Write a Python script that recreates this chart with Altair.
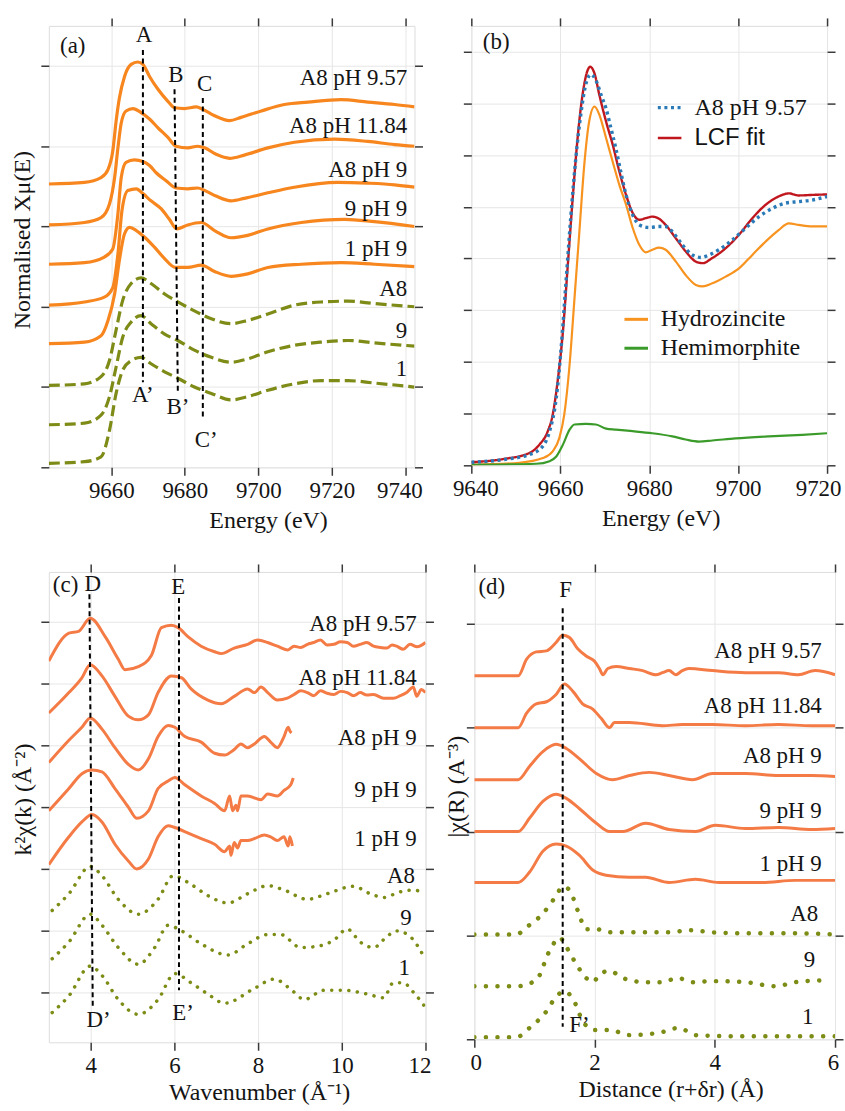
import altair as alt
import pandas as pd

SERIF = "Liberation Serif"
SANS = "Liberation Sans"
INK = "#141414"
FRAME = "#3a3a3a"
GRID = "#e6e6e6"

# ---------------- (a) XANES spectra ----------------
a_E_957 = [9643, 9652.7, 9657.2, 9659.1, 9660.4, 9661.3, 9662.2, 9663.6, 9665.4, 9667.2, 9668.6, 9670.4, 9672.7, 9675.4, 9677.2, 9679.9, 9683.1, 9684.9, 9688.1, 9692.2, 9695.3, 9700.8, 9707.1, 9713.5, 9722.5, 9729.8, 9737.1, 9742.5]
a_y_957 = [3.53, 3.55, 3.61, 3.71, 3.94, 4.31, 4.60, 4.87, 5.02, 5.05, 5.02, 4.87, 4.71, 4.56, 4.48, 4.47, 4.49, 4.46, 4.38, 4.32, 4.36, 4.44, 4.52, 4.55, 4.58, 4.55, 4.52, 4.49]
a_E_1184 = [9643, 9652.7, 9657.2, 9659.5, 9660.9, 9661.8, 9662.7, 9664.0, 9665.9, 9668.1, 9670.4, 9672.7, 9675.4, 9677.6, 9680.8, 9683.5, 9685.4, 9688.5, 9692.2, 9696.2, 9702.6, 9709.8, 9720.7, 9729.8, 9737.1, 9742.5]
a_y_1184 = [3.02, 3.05, 3.11, 3.28, 3.61, 3.98, 4.29, 4.44, 4.47, 4.42, 4.34, 4.23, 4.11, 4.00, 3.98, 4.00, 3.98, 3.90, 3.85, 3.89, 3.98, 4.05, 4.09, 4.06, 4.02, 4.00]
a_E_a8p9 = [9643, 9652.7, 9658.1, 9660.4, 9661.8, 9662.7, 9664.0, 9666.3, 9668.6, 9670.4, 9672.2, 9674.9, 9677.6, 9680.8, 9683.5, 9685.4, 9688.5, 9692.6, 9696.2, 9702.6, 9709.8, 9721.6, 9729.8, 9737.1, 9742.5]
a_y_a8p9 = [2.53, 2.55, 2.62, 2.72, 3.16, 3.61, 3.80, 3.83, 3.81, 3.76, 3.67, 3.57, 3.48, 3.47, 3.48, 3.45, 3.38, 3.32, 3.35, 3.42, 3.49, 3.55, 3.54, 3.52, 3.49]
a_E_9p9 = [9643, 9652.7, 9658.1, 9660.4, 9661.8, 9662.9, 9664.5, 9666.8, 9668.6, 9670.8, 9673.6, 9675.8, 9677.8, 9680.8, 9684.5, 9688.1, 9692.6, 9697.1, 9702.6, 9711.7, 9723.5, 9731.6, 9742.5]
a_y_9p9 = [2.02, 2.06, 2.12, 2.24, 2.66, 3.20, 3.45, 3.47, 3.41, 3.32, 3.22, 3.09, 2.97, 3.02, 3.05, 2.95, 2.86, 2.89, 2.97, 3.05, 3.09, 3.06, 3.00]
a_E_1p9 = [9643, 9652.7, 9657.2, 9659.1, 9660.9, 9662.2, 9663.6, 9665.0, 9666.8, 9669.0, 9671.8, 9674.5, 9677.4, 9680.8, 9684.5, 9688.1, 9692.6, 9697.1, 9702.6, 9711.7, 9722.5, 9731.6, 9742.5]
a_y_1p9 = [1.54, 1.56, 1.64, 1.83, 2.16, 2.58, 2.91, 2.99, 2.95, 2.87, 2.74, 2.60, 2.49, 2.49, 2.52, 2.44, 2.38, 2.41, 2.49, 2.53, 2.55, 2.53, 2.50]
a_E_ref = [9643, 9652.7, 9657.2, 9659.5, 9661.3, 9663.1, 9665.4, 9668.1, 9670.8, 9674.5, 9678.1, 9682.6, 9687.2, 9692.6, 9697.1, 9702.6, 9709.8, 9717.1, 9724.4, 9731.6, 9742.5]
a_y_A8 = [1.02, 1.04, 1.13, 1.33, 1.71, 2.08, 2.29, 2.36, 2.29, 2.16, 2.06, 1.95, 1.85, 1.79, 1.83, 1.91, 2.02, 2.06, 2.07, 2.04, 2.00]
a_y_9 = [0.53, 0.55, 0.65, 0.88, 1.25, 1.62, 1.81, 1.89, 1.79, 1.66, 1.58, 1.46, 1.37, 1.31, 1.35, 1.44, 1.52, 1.56, 1.58, 1.55, 1.51]
a_y_1 = [0.05, 0.07, 0.13, 0.46, 0.92, 1.21, 1.33, 1.37, 1.29, 1.19, 1.11, 1.00, 0.92, 0.84, 0.88, 0.96, 1.04, 1.08, 1.08, 1.05, 1.00]

a_lab_x = [9740.5] * 8
a_lab_y = [4.85, 4.25, 3.71, 3.22, 2.72, 2.22, 1.70, 1.23]
a_mk_text = ["A", "B", "C", "A\u2019", "B\u2019", "C\u2019", "(a)"]
a_mk_x = [9668.9, 9677.6, 9685.4, 9668.6, 9678.1, 9685.8, 9649.5]
a_mk_y = [5.39, 4.89, 4.77, 0.90, 0.75, 0.34, 5.25]
a_rule_x = [9668.6, 9677.2, 9684.9]
a_rule_x2 = [9668.6, 9678.1, 9684.9]
a_rule_y = [5.20, 4.71, 4.60]
a_rule_y2 = [1.06, 0.94, 0.63]

# ---------------- (b) LCF ----------------
b_E_exp = [9640, 9647.1, 9653.1, 9656.1, 9657.6, 9659.1, 9660.2, 9661.3, 9662.4, 9663.5, 9664.7, 9665.8, 9666.9, 9668.0, 9669.2, 9670.3, 9671.4, 9672.5, 9673.6, 9674.8, 9676.3, 9677.8, 9680.0, 9682.2, 9683.7, 9685.2, 9687.5, 9689.7, 9691.6, 9693.5, 9695.7, 9698.7, 9701.7, 9704.7, 9707.7, 9710.6, 9713.6, 9716.6, 9720]
b_y_exp = [0.06, 0.11, 0.21, 0.37, 0.66, 1.30, 2.27, 3.56, 4.84, 5.94, 6.84, 7.39, 7.56, 7.45, 7.16, 6.90, 6.52, 6.13, 5.68, 5.23, 4.84, 4.65, 4.60, 4.62, 4.62, 4.52, 4.26, 4.07, 4.02, 4.07, 4.17, 4.36, 4.59, 4.81, 4.97, 5.07, 5.10, 5.13, 5.20]
b_E_fit = [9640, 9647.1, 9653.1, 9655.3, 9657.2, 9658.3, 9659.4, 9660.6, 9661.7, 9662.8, 9663.9, 9665.0, 9666.2, 9666.7, 9667.7, 9668.8, 9670.3, 9671.8, 9673.3, 9674.8, 9676.3, 9677.8, 9679.2, 9680.7, 9682.2, 9683.7, 9686.0, 9688.2, 9690.5, 9692.0, 9694.2, 9697.2, 9700.2, 9703.2, 9706.2, 9709.1, 9711.4, 9713.6, 9716.6, 9720]
b_y_fit = [0.06, 0.12, 0.24, 0.40, 0.66, 0.98, 1.62, 2.59, 3.88, 5.17, 6.33, 7.16, 7.65, 7.71, 7.58, 7.16, 6.65, 6.20, 5.68, 5.23, 4.88, 4.75, 4.78, 4.81, 4.77, 4.65, 4.39, 4.14, 3.94, 3.91, 4.01, 4.20, 4.46, 4.78, 5.04, 5.20, 5.26, 5.22, 5.23, 5.24]
b_E_hz = [9640, 9650.8, 9656.1, 9658.3, 9659.8, 9660.9, 9662.1, 9663.2, 9664.3, 9665.4, 9666.5, 9667.7, 9668.8, 9670.3, 9671.8, 9673.3, 9674.8, 9676.3, 9677.8, 9679.2, 9680.7, 9682.2, 9683.7, 9686.0, 9688.2, 9690.5, 9692.0, 9694.2, 9697.2, 9700.2, 9703.2, 9706.2, 9709.1, 9711.4, 9713.6, 9716.6, 9720]
b_y_hz = [0.01, 0.05, 0.14, 0.27, 0.53, 0.98, 1.95, 3.23, 4.52, 5.81, 6.65, 6.94, 6.78, 6.33, 5.87, 5.42, 5.04, 4.59, 4.26, 4.12, 4.17, 4.21, 4.17, 3.94, 3.68, 3.49, 3.46, 3.52, 3.65, 3.81, 4.07, 4.33, 4.55, 4.68, 4.65, 4.62, 4.62]
b_E_hm = [9640, 9654.6, 9657.6, 9659.1, 9660.6, 9662.1, 9663.2, 9665.8, 9668.0, 9670.3, 9672.5, 9676.3, 9680.7, 9685.2, 9688.2, 9691.2, 9694.2, 9699.4, 9706.9, 9714.4, 9720]
b_y_hm = [0.01, 0.03, 0.08, 0.17, 0.40, 0.69, 0.79, 0.80, 0.79, 0.71, 0.69, 0.66, 0.62, 0.56, 0.50, 0.46, 0.48, 0.52, 0.56, 0.59, 0.62]
b_mk_text = ["(b)"]
b_mk_x = [9645.6]
b_mk_y = [8.19]

# ---------------- (c) k-space EXAFS ----------------
c_k_957 = [3.0, 3.48, 3.71, 3.99, 4.35, 4.66, 4.82, 5.14, 5.45, 5.69, 5.93, 6.09, 6.33, 6.64, 6.96, 7.12, 7.43, 7.75, 7.99, 8.23, 8.46, 8.70, 8.86, 9.02, 9.18, 9.33, 9.49, 9.65, 9.81, 9.97, 10.13, 10.28, 10.44, 10.6, 10.76, 10.92, 11.08, 11.2, 11.31, 11.47, 11.63, 11.8, 12.0]
c_y_957 = [5.36, 5.81, 5.84, 6.05, 5.75, 5.39, 5.22, 5.27, 5.45, 5.90, 5.94, 5.90, 5.75, 5.60, 5.51, 5.48, 5.57, 5.63, 5.70, 5.66, 5.60, 5.54, 5.60, 5.58, 5.63, 5.66, 5.70, 5.62, 5.63, 5.67, 5.66, 5.60, 5.63, 5.66, 5.60, 5.58, 5.57, 5.62, 5.60, 5.55, 5.63, 5.59, 5.66]
c_k_1184 = [3.0, 3.48, 3.79, 3.99, 4.27, 4.58, 4.90, 5.14, 5.38, 5.61, 5.93, 6.17, 6.40, 6.80, 7.12, 7.43, 7.75, 7.91, 8.07, 8.23, 8.46, 8.70, 8.86, 9.02, 9.18, 9.33, 9.49, 9.65, 9.81, 9.97, 10.13, 10.28, 10.44, 10.6, 10.76, 11.0, 11.23, 11.4, 11.55, 11.71, 11.79, 11.9, 12.0]
c_y_1184 = [4.52, 4.85, 5.09, 5.30, 5.12, 4.79, 4.47, 4.41, 4.49, 4.85, 5.12, 5.09, 4.91, 4.73, 4.67, 4.79, 4.91, 4.85, 4.94, 4.85, 4.73, 4.76, 4.82, 4.88, 4.85, 4.80, 4.88, 4.84, 4.82, 4.87, 4.85, 4.80, 4.85, 4.81, 4.82, 4.76, 4.76, 4.80, 4.85, 4.94, 4.79, 4.90, 4.85]
c_k_a8p9 = [3.0, 3.48, 3.79, 3.99, 4.27, 4.58, 4.90, 5.14, 5.38, 5.61, 5.85, 6.01, 6.25, 6.64, 6.96, 7.20, 7.43, 7.59, 7.75, 7.91, 8.15, 8.30, 8.46, 8.62, 8.72, 8.76, 8.80]
c_y_a8p9 = [3.72, 4.08, 4.29, 4.44, 4.26, 3.96, 3.69, 3.60, 3.78, 4.14, 4.32, 4.29, 4.14, 4.05, 3.87, 3.84, 3.93, 4.02, 3.96, 4.02, 4.14, 4.05, 3.96, 4.14, 4.29, 4.23, 4.20]
c_k_9p9 = [3.0, 3.48, 3.79, 4.03, 4.27, 4.58, 4.90, 5.10, 5.38, 5.61, 5.85, 6.01, 6.25, 6.64, 6.96, 7.20, 7.32, 7.39, 7.47, 7.51, 7.59, 7.75, 8.07, 8.23, 8.46, 8.62, 8.78, 8.84]
c_y_9p9 = [2.94, 3.30, 3.54, 3.60, 3.57, 3.30, 3.00, 2.82, 2.94, 3.30, 3.42, 3.48, 3.36, 3.18, 3.06, 2.94, 3.18, 2.94, 3.03, 2.94, 3.18, 3.18, 3.12, 3.21, 3.18, 3.27, 3.36, 3.47]
c_k_1p9 = [3.0, 3.48, 3.79, 4.03, 4.27, 4.58, 4.90, 5.10, 5.38, 5.61, 5.85, 6.01, 6.33, 6.64, 6.96, 7.20, 7.32, 7.35, 7.43, 7.51, 7.59, 7.75, 7.91, 8.15, 8.30, 8.46, 8.62, 8.72, 8.76, 8.82]
c_y_1p9 = [2.07, 2.52, 2.76, 2.88, 2.76, 2.40, 2.13, 2.00, 2.16, 2.52, 2.70, 2.67, 2.58, 2.49, 2.40, 2.28, 2.37, 2.22, 2.43, 2.34, 2.46, 2.46, 2.49, 2.55, 2.52, 2.46, 2.52, 2.37, 2.52, 2.37]
c_k_A8 = [3.08, 3.48, 3.99, 4.27, 4.66, 5.14, 5.61, 5.97, 6.40, 6.80, 7.28, 7.75, 8.23, 8.62, 9.18, 9.65, 10.28, 10.68, 11.0, 11.39, 11.71, 11.99]
c_y_A8 = [1.33, 1.60, 2.04, 1.89, 1.51, 1.27, 1.51, 1.89, 1.75, 1.57, 1.45, 1.60, 1.73, 1.66, 1.51, 1.60, 1.72, 1.60, 1.54, 1.63, 1.66, 1.60]
c_k_9 = [3.08, 3.48, 3.99, 4.27, 4.66, 5.14, 5.53, 5.85, 6.17, 6.64, 7.28, 7.75, 8.23, 8.54, 9.02, 9.49, 9.81, 10.13, 10.44, 10.76, 11.08, 11.31, 11.63, 11.99]
c_y_9 = [0.55, 0.82, 1.27, 1.09, 0.73, 0.46, 0.73, 1.09, 1.00, 0.79, 0.61, 0.79, 0.94, 0.94, 0.73, 0.76, 0.85, 1.03, 0.82, 0.73, 0.91, 1.00, 0.91, 0.55]
c_k_1 = [3.08, 3.48, 3.99, 4.27, 4.66, 5.14, 5.61, 6.01, 6.40, 6.80, 7.20, 7.91, 8.38, 8.86, 9.10, 9.57, 10.05, 10.60, 11.0, 11.23, 11.47, 11.71, 11.99]
c_y_1 = [-0.32, -0.05, 0.43, 0.28, -0.11, -0.35, -0.11, 0.31, 0.16, -0.02, -0.17, 0.07, 0.22, 0.01, -0.11, 0.04, 0.04, -0.02, -0.08, 0.16, 0.16, 0.01, -0.23]

c_lab_x = [11.79, 11.79, 11.79, 11.79, 11.79, 11.75, 11.67, 11.63]
c_lab_y = [5.96, 5.09, 4.11, 3.27, 2.49, 1.89, 1.21, 0.40]
c_mk_text = ["D", "E", "D\u2019", "E\u2019", "(c)"]
c_mk_x = [4.05, 6.09, 4.19, 6.21, 3.40]
c_mk_y = [6.60, 6.56, -0.44, -0.32, 6.59]
c_rule_x = [3.97, 6.11]
c_rule_x2 = [4.05, 6.11]
c_rule_y = [6.44, 6.38]
c_rule_y2 = [-0.26, 0.04]

# ---------------- (d) R-space EXAFS ----------------
d_R_957 = [0, 0.73, 0.87, 1.03, 1.20, 1.36, 1.47, 1.58, 1.72, 1.86, 2.0, 2.08, 2.14, 2.22, 2.36, 2.58, 2.80, 3.02, 3.13, 3.24, 3.35, 3.46, 3.57, 3.96, 4.51, 5.06, 5.39, 5.67, 6.0]
d_y_957 = [3.50, 3.50, 3.66, 3.73, 3.74, 3.82, 3.89, 3.87, 3.76, 3.69, 3.64, 3.57, 3.51, 3.57, 3.59, 3.57, 3.55, 3.51, 3.53, 3.55, 3.51, 3.55, 3.57, 3.55, 3.53, 3.53, 3.51, 3.55, 3.51]
d_R_1184 = [0, 0.73, 0.87, 1.03, 1.20, 1.36, 1.50, 1.64, 1.80, 1.97, 2.11, 2.25, 2.33, 2.58, 3.13, 3.46, 3.96, 4.51, 5.06, 5.61, 6.0]
d_y_1184 = [3.00, 3.00, 3.14, 3.23, 3.25, 3.32, 3.42, 3.35, 3.23, 3.18, 3.09, 3.00, 3.05, 3.05, 3.02, 3.03, 3.03, 3.02, 3.03, 3.02, 3.02]
d_R_a8p9 = [0, 0.73, 0.92, 1.14, 1.36, 1.53, 1.75, 2.03, 2.30, 2.58, 2.91, 3.24, 3.63, 3.96, 4.51, 5.06, 5.61, 6.0]
d_y_a8p9 = [2.50, 2.50, 2.63, 2.77, 2.84, 2.80, 2.70, 2.56, 2.50, 2.54, 2.57, 2.54, 2.50, 2.56, 2.56, 2.54, 2.54, 2.53]
d_R_9p9 = [0, 0.73, 0.92, 1.14, 1.36, 1.53, 1.75, 2.03, 2.25, 2.47, 2.85, 3.24, 3.68, 4.01, 4.51, 5.06, 5.61, 6.0]
d_y_9p9 = [2.00, 2.00, 2.13, 2.29, 2.36, 2.32, 2.22, 2.08, 2.00, 2.00, 2.08, 2.02, 2.00, 2.06, 2.03, 2.04, 2.02, 2.03]
d_R_1p9 = [0, 0.73, 0.92, 1.14, 1.36, 1.53, 1.75, 1.97, 2.19, 2.58, 2.85, 3.24, 3.68, 4.07, 4.78, 5.34, 6.0]
d_y_1p9 = [1.51, 1.51, 1.61, 1.81, 1.88, 1.86, 1.77, 1.63, 1.58, 1.56, 1.56, 1.51, 1.54, 1.51, 1.51, 1.53, 1.53]
d_R_A8 = [0, 0.70, 0.87, 1.14, 1.36, 1.47, 1.58, 1.72, 1.86, 2.03, 2.25, 2.69, 3.24, 3.57, 3.96, 4.51, 5.34, 6.0]
d_y_A8 = [1.01, 1.01, 1.08, 1.21, 1.38, 1.47, 1.44, 1.24, 1.06, 1.06, 1.03, 1.03, 1.03, 1.05, 1.03, 1.02, 1.02, 1.01]
d_R_9 = [0, 0.70, 1.03, 1.25, 1.42, 1.53, 1.69, 1.86, 1.97, 2.08, 2.25, 2.47, 2.85, 3.13, 3.38, 3.63, 3.96, 4.51, 5.01, 5.34, 5.89]
d_y_9 = [0.51, 0.51, 0.57, 0.85, 0.98, 0.89, 0.73, 0.59, 0.55, 0.62, 0.66, 0.59, 0.55, 0.55, 0.59, 0.55, 0.56, 0.55, 0.51, 0.55, 0.57]
d_R_1 = [0, 0.70, 0.92, 1.20, 1.36, 1.50, 1.64, 1.80, 1.97, 2.25, 2.58, 3.13, 3.40, 3.68, 4.23, 4.78, 5.34, 6.0]
d_y_1 = [0.02, 0.02, 0.11, 0.27, 0.41, 0.46, 0.39, 0.18, 0.09, 0.09, 0.04, 0.07, 0.11, 0.04, 0.03, 0.03, 0.03, 0.03]

d_lab_x = [5.78, 5.78, 5.78, 5.78, 5.78, 5.72, 5.67, 5.64]
d_lab_y = [3.74, 3.21, 2.73, 2.20, 1.69, 1.21, 0.76, 0.21]
d_mk_text = ["F", "F\u2019", "(d)"]
d_mk_x = [1.52, 1.75, 0.29]
d_mk_y = [4.33, 0.14, 4.35]
d_rule_x = [1.47]
d_rule_x2 = [1.47]
d_rule_y = [4.15]
d_rule_y2 = [0.12]

SERIES = ["A8 pH 9.57", "A8 pH 11.84", "A8 pH 9", "9 pH 9", "1 pH 9", "A8", "9", "1"]
TICK = 8


def long_df(items):
    frames = [pd.DataFrame({"x": xs, "y": ys, "series": name}) for name, xs, ys in items]
    return pd.concat(frames, ignore_index=True)


def axes(xticks, yticks, xtitle, ytitle, xt_pos, yt_pos, label_shift):
    common = dict(domain=False, tickSize=TICK, tickWidth=1.5, tickColor=FRAME)
    shift_expr = " : ".join(f"datum.value == {v} ? {s}" for v, s in label_shift) + " : 0"
    bottom = alt.Axis(orient="bottom", values=xticks, title=xtitle, grid=True, gridColor=GRID, format="d",
                      labelFont=SERIF, labelFontSize=23, labelColor=INK, labelPadding=4,
                      labelOverlap=False, labelFlush=False, labelOffset={"expr": shift_expr},
                      titleFont=SERIF, titleFontSize=24,
                      titleFontWeight="normal", titleColor=INK, titleX=xt_pos[0], titleY=xt_pos[1],
                      titleBaseline="middle", titleAlign="center", **common)
    if ytitle:
        left = alt.Axis(orient="left", values=yticks, title=ytitle, grid=True, gridColor=GRID,
                        labels=False, titleFont=SERIF, titleFontSize=24, titleFontWeight="normal",
                        titleColor=INK, titleX=yt_pos[0], titleY=yt_pos[1], titleBaseline="middle",
                        titleAlign="center", titleAngle=270, **common)
    else:
        left = alt.Axis(orient="left", values=yticks, title=None, grid=True, gridColor=GRID,
                        labels=False, **common)
    top = alt.Axis(orient="top", values=xticks, title=None, grid=False, labels=False, **common)
    right = alt.Axis(orient="right", values=yticks, title=None, grid=False, labels=False, **common)
    return bottom, left, top, right


def annotations(xs, ys, top, right, lab_df, mk_df, rule_df, fs=23):
    layers = []
    if rule_df is not None:
        layers.append(alt.Chart(rule_df).mark_rule(color="black", strokeWidth=2, strokeDash=[5, 3.5]).encode(
            x=alt.X("x:Q", scale=xs, axis=None), x2="x2:Q",
            y=alt.Y("y:Q", scale=ys, axis=None), y2="y2:Q"))
    if lab_df is not None:
        layers.append(alt.Chart(lab_df).mark_text(align="right", baseline="middle", font=SERIF,
                                                  fontSize=fs, color=INK).encode(
            x=alt.X("x:Q", scale=xs, axis=None), y=alt.Y("y:Q", scale=ys, axis=None), text="text:N"))
    layers.append(alt.Chart(mk_df).mark_text(align="center", baseline="middle", font=SERIF,
                                             fontSize=fs, color=INK).encode(
        x=alt.X("x:Q", scale=xs, axis=top), y=alt.Y("y:Q", scale=ys, axis=right), text="text:N"))
    return layers


def simple_panel(solid_items, broken_items, solid_color, broken_color, solid_w, broken_style,
                 lab, mk, rule, xdom, ydom, xticks, yticks, xtitle, ytitle, xt_pos, yt_pos, w, h, label_shift):
    xs = alt.Scale(domain=xdom, nice=False, zero=False)
    ys = alt.Scale(domain=ydom, nice=False, zero=False)
    bottom, left, top, right = axes(xticks, yticks, xtitle, ytitle, xt_pos, yt_pos, label_shift)
    solid = alt.Chart(long_df(solid_items)).mark_line(
        color=solid_color, strokeWidth=solid_w, interpolate="monotone", clip=True).encode(
        x=alt.X("x:Q", scale=xs, axis=bottom), y=alt.Y("y:Q", scale=ys, axis=left), detail="series:N")
    broken = alt.Chart(long_df(broken_items)).mark_line(
        color=broken_color, interpolate="monotone", clip=True, **broken_style).encode(
        x=alt.X("x:Q", scale=xs, axis=None), y=alt.Y("y:Q", scale=ys, axis=None), detail="series:N")
    lab_df = pd.DataFrame({"x": lab[0], "y": lab[1], "text": SERIES})
    mk_df = pd.DataFrame({"x": mk[1], "y": mk[2], "text": mk[0]})
    rule_df = pd.DataFrame({"x": rule[0], "x2": rule[1], "y": rule[2], "y2": rule[3]})
    layers = [solid, broken] + annotations(xs, ys, top, right, lab_df, mk_df, rule_df)
    return alt.layer(*layers).resolve_axis(x="independent", y="independent").properties(width=w, height=h)


panel_a = simple_panel(
    [("A8 pH 9.57", a_E_957, a_y_957), ("A8 pH 11.84", a_E_1184, a_y_1184), ("A8 pH 9", a_E_a8p9, a_y_a8p9),
     ("9 pH 9", a_E_9p9, a_y_9p9), ("1 pH 9", a_E_1p9, a_y_1p9)],
    [("A8", a_E_ref, a_y_A8), ("9", a_E_ref, a_y_9), ("1", a_E_ref, a_y_1)],
    "#F7861E", "#7E8B17", 3.2, dict(strokeWidth=3.2, strokeDash=[11, 5]),
    (a_lab_x, a_lab_y), (a_mk_text, a_mk_x, a_mk_y), (a_rule_x, a_rule_x2, a_rule_y, a_rule_y2),
    [9643, 9742.5], [0, 5.5], [9660, 9680, 9700, 9720, 9740], [0, 1, 2, 3, 4, 5],
    "Energy (eV)", "Normalised X\u03bc(E)", (220, 53), (-26.7, 214.5), 367, 443, [(9740, -6)])

panel_c = simple_panel(
    [("A8 pH 9.57", c_k_957, c_y_957), ("A8 pH 11.84", c_k_1184, c_y_1184), ("A8 pH 9", c_k_a8p9, c_y_a8p9),
     ("9 pH 9", c_k_9p9, c_y_9p9), ("1 pH 9", c_k_1p9, c_y_1p9)],
    [("A8", c_k_A8, c_y_A8), ("9", c_k_9, c_y_9), ("1", c_k_1, c_y_1)],
    "#F47B45", "#7C8C15", 3.0, dict(strokeWidth=3.5, strokeDash=[0.1, 8.5], strokeCap="round"),
    (c_lab_x, c_lab_y), (c_mk_text, c_mk_x, c_mk_y), (c_rule_x, c_rule_x2, c_rule_y, c_rule_y2),
    [3, 12], [-0.8, 6.8], [4, 6, 8, 10, 12], [0, 1, 2, 3, 4, 5, 6],
    "Wavenumber (\u00c5\u207b\u00b9)", "k\u00b2\u03c7(k) (\u00c5\u207b\u00b2)", (211, 50), (-25.7, 228), 378, 472,
    [(12, -6)])

panel_d = simple_panel(
    [("A8 pH 9.57", d_R_957, d_y_957), ("A8 pH 11.84", d_R_1184, d_y_1184), ("A8 pH 9", d_R_a8p9, d_y_a8p9),
     ("9 pH 9", d_R_9p9, d_y_9p9), ("1 pH 9", d_R_1p9, d_y_1p9)],
    [("A8", d_R_A8, d_y_A8), ("9", d_R_9, d_y_9), ("1", d_R_1, d_y_1)],
    "#F47B45", "#7C8C15", 3.0, dict(strokeWidth=4.5, strokeDash=[0.1, 11.5], strokeCap="round"),
    (d_lab_x, d_lab_y), (d_mk_text, d_mk_x, d_mk_y), (d_rule_x, d_rule_x2, d_rule_y, d_rule_y2),
    [0, 6], [0, 4.5], [0, 2, 4, 6], [0, 1, 2, 3, 4],
    "Distance (r+\u03b4r) (\u00c5)", "|\u03c7(R) (A\u207b\u00b3)", (197, 50), (-18.3, 215), 362, 469,
    [(0, 1.5), (6, -2)])

# ----- panel (b) -----
bxs = alt.Scale(domain=[9640, 9720], nice=False, zero=False)
bys = alt.Scale(domain=[0, 8.5], nice=False, zero=False)
b_bottom, b_left, b_top, b_right = axes([9640, 9660, 9680, 9700, 9720], list(range(9)),
                                        "Energy (eV)", None, (190, 53), (0, 0), [(9640, 4), (9720, -9)])
ref_names = ["Hydrozincite", "Hemimorphite"]
fit_names = ["A8 pH 9.57", "LCF fit"]
b_ref_df = long_df([("Hydrozincite", b_E_hz, b_y_hz), ("Hemimorphite", b_E_hm, b_y_hm)])
b_fit_df = long_df([("LCF fit", b_E_fit, b_y_fit), ("A8 pH 9.57", b_E_exp, b_y_exp)])

fit_legend = alt.Legend(title=None, orient="none", legendX=185, legendY=68,
                        symbolType="stroke", symbolSize=560, symbolStrokeWidth=3.4,
                        labelFont={"expr": "datum.label == 'LCF fit' ? 'Liberation Sans' : 'Liberation Serif'"},
                        labelFontSize=24, labelColor=INK, rowPadding=5, labelOffset=11, padding=0)

b_refs = alt.Chart(b_ref_df).mark_line(strokeWidth=2.2, interpolate="monotone", clip=True).encode(
    x=alt.X("x:Q", scale=bxs, axis=b_bottom), y=alt.Y("y:Q", scale=bys, axis=b_left),
    color=alt.Color("series:N", scale=alt.Scale(domain=ref_names, range=["#F7931E", "#3B9B2A"]),
                    legend=alt.Legend(title=None, orient="none", legendX=152, legendY=281,
                                      symbolType="stroke", symbolSize=560, symbolStrokeWidth=3,
                                      labelFont=SERIF, labelFontSize=24, labelColor=INK,
                                      rowPadding=3, labelOffset=11, padding=0)))
b_fit = alt.Chart(b_fit_df).mark_line(strokeCap="butt", interpolate="monotone", clip=True).encode(
    x=alt.X("x:Q", scale=bxs, axis=None), y=alt.Y("y:Q", scale=bys, axis=None),
    color=alt.Color("series:N", scale=alt.Scale(domain=fit_names, range=["#2A7AB8", "#C0161E"]),
                    legend=fit_legend),
    strokeDash=alt.StrokeDash("series:N", scale=alt.Scale(domain=fit_names, range=[[3, 3.6], [1, 0]]),
                              legend=fit_legend),
    strokeWidth=alt.StrokeWidth("series:N", scale=alt.Scale(domain=fit_names, range=[3.4, 2.4]), legend=None))
b_mk_df = pd.DataFrame({"x": b_mk_x, "y": b_mk_y, "text": b_mk_text})
b_layers = [b_refs, b_fit] + annotations(bxs, bys, b_top, b_right, None, b_mk_df, None)
panel_b = alt.layer(*b_layers).resolve_axis(x="independent", y="independent").resolve_scale(
    color="independent", strokeDash="independent", strokeWidth="independent").properties(width=357, height=441)

top_row = alt.hconcat(panel_a, panel_b, spacing=57, bounds="flush")
bottom_row = alt.hconcat(panel_c, panel_d, spacing=49, bounds="flush")
chart = alt.vconcat(top_row, bottom_row, spacing=29).properties(
    padding={"left": 9, "top": 14, "right": 0, "bottom": 0}
).configure_view(stroke=FRAME, strokeWidth=1.5).configure(background="white")

chart.save("out.html", embed_options={"renderer": "svg", "actions": False})
